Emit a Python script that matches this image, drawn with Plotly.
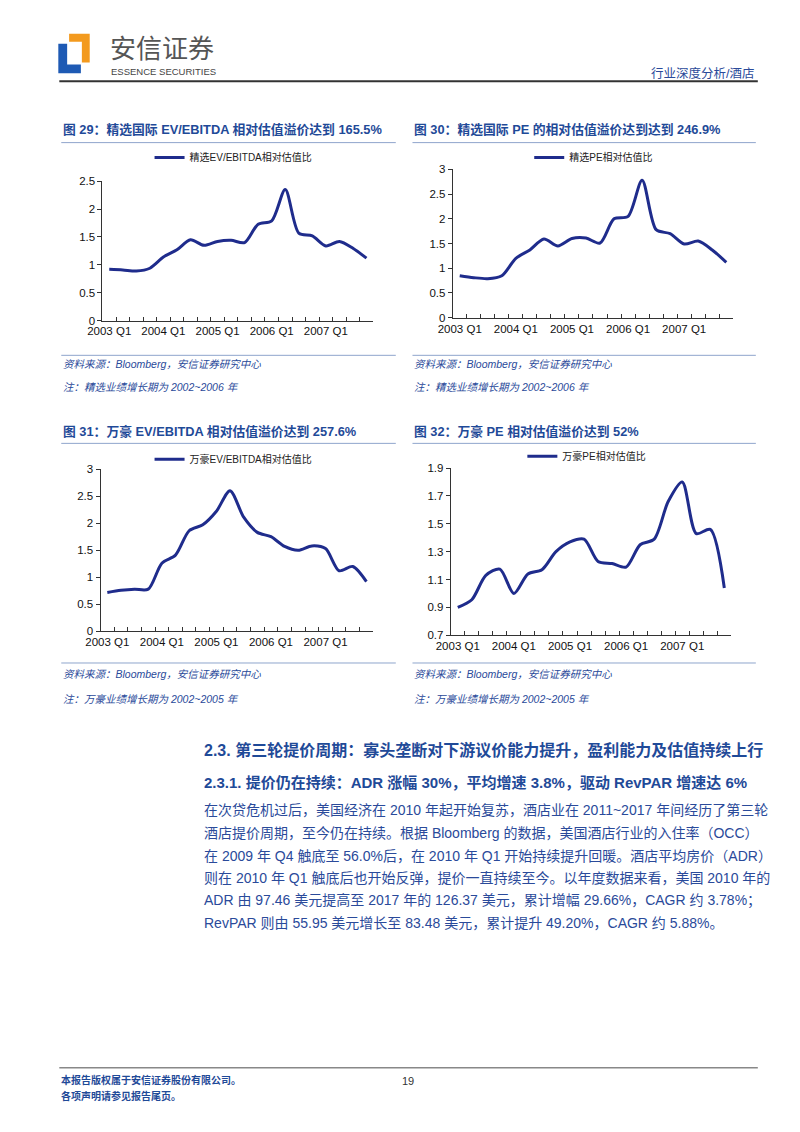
import plotly.graph_objects as go

# page is drawn inside the default 8px body margin, so the figure is 8px smaller
OFF = 8
PAGE_W, PAGE_H = 800, 1132
W, H = PAGE_W - OFF, PAGE_H - OFF

quarters = ["2003 Q1", "2003 Q2", "2003 Q3", "2003 Q4",
            "2004 Q1", "2004 Q2", "2004 Q3", "2004 Q4",
            "2005 Q1", "2005 Q2", "2005 Q3", "2005 Q4",
            "2006 Q1", "2006 Q2", "2006 Q3", "2006 Q4",
            "2007 Q1", "2007 Q2", "2007 Q3", "2007 Q4"]
tick_labels = [q if q.endswith("Q1") else "" for q in quarters]

starwood_ev_ebitda = [0.92, 0.91, 0.89, 0.94, 1.14, 1.27, 1.45, 1.35, 1.42, 1.44,
                      1.40, 1.73, 1.79, 2.35, 1.57, 1.52, 1.34, 1.42, 1.30, 1.12]
starwood_pe = [0.85, 0.81, 0.79, 0.85, 1.20, 1.37, 1.59, 1.45, 1.60, 1.61,
               1.51, 2.00, 2.05, 2.78, 1.78, 1.70, 1.49, 1.55, 1.37, 1.12]
marriott_ev_ebitda = [0.72, 0.76, 0.78, 0.78, 1.26, 1.41, 1.86, 1.97, 2.22, 2.60,
                      2.11, 1.83, 1.75, 1.57, 1.50, 1.58, 1.53, 1.12, 1.20, 0.92]
marriott_pe = [0.90, 0.955, 1.13, 1.175, 1.00, 1.14, 1.17, 1.30, 1.37, 1.39,
               1.23, 1.215, 1.19, 1.35, 1.39, 1.66, 1.80, 1.43, 1.46, 1.04]

series_names = ["精选EV/EBITDA相对估值比", "精选PE相对估值比",
                "万豪EV/EBITDA相对估值比", "万豪PE相对估值比"]

LINE = "#1F2C8C"
TITLE_BLUE = "#1F4A98"
BODY_BLUE = "#2A4A9A"
FONT = "Liberation Sans, Arial, Noto Sans CJK SC, sans-serif"


def X(px):
    return (px - OFF) / W


def Y(py):
    return 1 - (py - OFF) / H


fig = go.Figure()

# panels: (data, name, x0, x1, ytop, ybottom, yrange, dtick, tick0, legend line x, legend y)
panels = [
    (starwood_ev_ebitda, series_names[0], 89, 365, 177, 318, [0, 2.5], 0.5, 0, 143, 153),
    (starwood_pe, series_names[1], 446, 732, 165, 315, [0, 3], 0.5, 0, 530, 153),
    (marriott_ev_ebitda, series_names[2], 87, 365, 468, 632, [0, 3], 0.5, 0, 143, 458),
    (marriott_pe, series_names[3], 444, 730, 467, 636, [0.7, 1.9], 0.2, 0.7, 523, 455),
]

for i, (vals, name, x0, x1, yt, yb, yr, dt, t0, lx, ly) in enumerate(panels):
    k = "" if i == 0 else str(i + 1)
    fig.add_trace(go.Scatter(
        x=quarters, y=vals, name=name, mode="lines",
        line=dict(color=LINE, width=3, shape="spline", smoothing=0.8),
        xaxis="x" + k, yaxis="y" + k, legend="legend" + k,
        hoverinfo="x+y"))
    axis_common = dict(showline=True, linecolor="#333333", linewidth=1,
                       showgrid=False, zeroline=False,
                       tickfont=dict(family=FONT, size=11.5, color="#111111"),
                       ticks="outside", tickcolor="#333333", ticklen=4)
    fig.update_layout(**{
        "xaxis" + k: dict(axis_common, domain=[X(x0), X(x1)], anchor="y" + k,
                          type="category", range=[-0.5, 19.5],
                          tickmode="array", tickvals=quarters, ticktext=tick_labels,
                          tickson="boundaries", ticks="inside", ticklen=4,
                          tickangle=0),
        "yaxis" + k: dict(axis_common, domain=[Y(yb), Y(yt)], anchor="x" + k,
                          range=yr, dtick=dt, tick0=t0, tickformat="~g"),
        "legend" + k: dict(x=X(lx - 6), y=Y(ly), xanchor="left", yanchor="middle",
                           bgcolor="rgba(0,0,0,0)", borderwidth=0,
                           font=dict(family=FONT, size=10, color="#222222")),
    })

annotations = []
shapes = []


def text(px, py, s, size, color, xanchor="left", bold=False, italic=False):
    if bold:
        s = "<b>" + s + "</b>"
    if italic:
        s = "<i>" + s + "</i>"
    annotations.append(dict(x=X(px), y=Y(py), xref="paper", yref="paper",
                            text=s, showarrow=False, xanchor=xanchor, yanchor="middle",
                            font=dict(family=FONT, size=size, color=color)))


def hline(x0, x1, py, color, width):
    shapes.append(dict(type="line", xref="paper", yref="paper",
                       x0=X(x0), x1=X(x1), y0=Y(py), y1=Y(py),
                       line=dict(color=color, width=width)))


def poly(points, color):
    path = "M " + " L ".join(f"{X(a)},{Y(b)}" for a, b in points) + " Z"
    shapes.append(dict(type="path", xref="paper", yref="paper", path=path,
                       fillcolor=color, line=dict(width=0)))


# header
poly([(44, 38), (53, 38), (53, 59), (67, 59), (67, 68), (44, 68)], "#1E5AB4")
poly([(55, 28), (76, 28), (76, 57), (68, 57), (68, 36), (55, 36)], "#F39A1E")
text(95, 43, "安信证券", 26, "#555555")
text(96, 66, "ESSENCE SECURITIES", 9.5, "#444444")
text(755, 68, "行业深度分析/酒店", 12.5, BODY_BLUE, xanchor="right")
hline(45, 757, 76, "#333333", 2)

# chart titles / rules / sources
titles = [
    (47, 125, "图 29：精选国际 EV/EBITDA 相对估值溢价达到 165.5%"),
    (405, 125, "图 30：精选国际 PE 的相对估值溢价达到达到 246.9%"),
    (47, 430, "图 31：万豪 EV/EBITDA 相对估值溢价达到 257.6%"),
    (405, 430, "图 32：万豪 PE 相对估值溢价达到 52%"),
]
for tx, ty, t in titles:
    text(tx, ty, t, 12.8, TITLE_BLUE, bold=True)

for y_rule in (138, 353, 442, 664):
    hline(47, 388, y_rule, "#8FA5CC", 1)
    hline(405, 755, y_rule, "#8FA5CC", 1)

src = "资料来源：Bloomberg，安信证券研究中心"
for sx, sy in [(47, 362), (405, 362), (47, 675), (405, 675)]:
    text(sx, sy, src, 10.5, BODY_BLUE, italic=True)
text(47, 385, "注：精选业绩增长期为 2002~2006 年", 10.5, BODY_BLUE, italic=True)
text(405, 385, "注：精选业绩增长期为 2002~2006 年", 10.5, BODY_BLUE, italic=True)
text(47, 700, "注：万豪业绩增长期为 2002~2005 年", 10.5, BODY_BLUE, italic=True)
text(405, 700, "注：万豪业绩增长期为 2002~2005 年", 10.5, BODY_BLUE, italic=True)

# section text
text(190, 752, "2.3. 第三轮提价周期：寡头垄断对下游议价能力提升，盈利能力及估值持续上行",
     16, TITLE_BLUE, bold=True)
text(190, 785, "2.3.1. 提价仍在持续：ADR 涨幅 30%，平均增速 3.8%，驱动 RevPAR 增速达 6%",
     15, TITLE_BLUE, bold=True)
para = [
    "在次贷危机过后，美国经济在 2010 年起开始复苏，酒店业在 2011~2017 年间经历了第三轮",
    "酒店提价周期，至今仍在持续。根据 Bloomberg 的数据，美国酒店行业的入住率（OCC）",
    "在 2009 年 Q4 触底至 56.0%后，在 2010 年 Q1 开始持续提升回暖。酒店平均房价（ADR）",
    "则在 2010 年 Q1 触底后也开始反弹，提价一直持续至今。以年度数据来看，美国 2010 年的",
    "ADR 由 97.46 美元提高至 2017 年的 126.37 美元，累计增幅 29.66%，CAGR 约 3.78%；",
    "RevPAR 则由 55.95 美元增长至 83.48 美元，累计提升 49.20%，CAGR 约 5.88%。",
]
for j, line in enumerate(para):
    text(190, 813 + j * 22.8, line, 14, BODY_BLUE)

# footer
hline(45, 757, 1073, "#888888", 1.5)
text(45, 1085, "本报告版权属于安信证券股份有限公司。", 10, TITLE_BLUE, bold=True)
text(45, 1102, "各项声明请参见报告尾页。", 10, TITLE_BLUE, bold=True)
text(400, 1087, "19", 11, "#333333", xanchor="center")

fig.update_layout(
    width=W, height=H, margin=dict(l=0, r=0, t=0, b=0),
    paper_bgcolor="white", plot_bgcolor="white",
    showlegend=True, annotations=annotations, shapes=shapes,
    font=dict(family=FONT),
)

fig.write_html("out.html")
